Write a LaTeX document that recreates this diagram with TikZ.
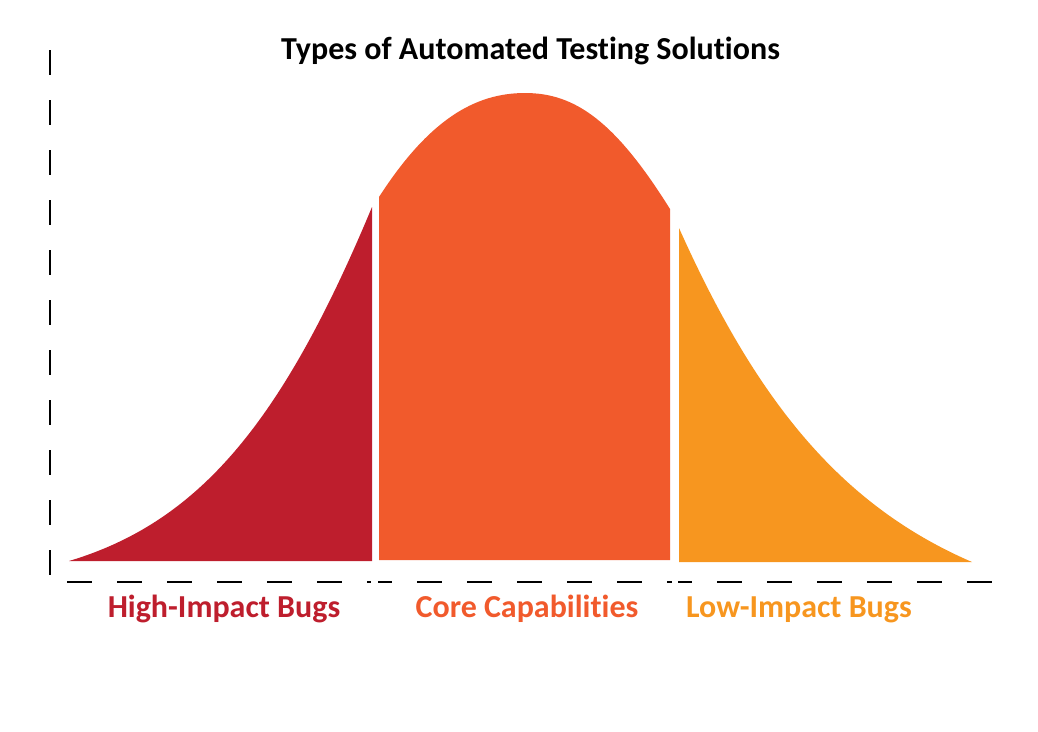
\documentclass[tikz,border=0pt]{standalone}
\usepackage{fontspec}
\setmainfont{Carlito}[Ligatures=NoCommon]
\definecolor{hi}{HTML}{BE1E2D}
\definecolor{core}{HTML}{F15A2C}
\definecolor{lo}{HTML}{F7961F}
\begin{document}
\begin{tikzpicture}[x=1pt,y=-1pt,
  lbl/.style={font=\fontsize{32}{38}\selectfont\bfseries, anchor=base, inner sep=0pt},
  axisline/.style={line width=2pt, dash pattern=on 25pt off 25pt}]
\useasboundingbox (0,0) rectangle (1038,731);
% curve pieces
\fill[hi] (69,561) .. controls (199,522) and (282,423) .. (372,207) -- (372,561) -- cycle;
\fill[core] (379,560) -- (379,197) .. controls (429,119.5) and (475,93) .. (525,93)
  .. controls (575,93) and (615,121) .. (670,209) -- (670,560) -- cycle;
\fill[lo] (679,562) -- (679,228) .. controls (756,400) and (840,505) .. (972,562) -- cycle;
% axes
\draw[axisline] (50,50) -- (50,575);
\draw[axisline] (67,582) -- (992,582);
\fill[white] (370.5,576) rectangle (377.5,588);
\fill[white] (672,576) rectangle (678,588);
% texts
\node[lbl, text=black] (title) at (530.5,59) {Types of Automated Testing Solutions};
\node[lbl, text=hi] (hib) at (224,617) {High-Impact Bugs};
\node[lbl, text=core] (cc) at (527,617) {Core Capabilities};
\node[lbl, text=lo] (lib) at (799,617) {Low-Impact Bugs};
\end{tikzpicture}
\end{document}
